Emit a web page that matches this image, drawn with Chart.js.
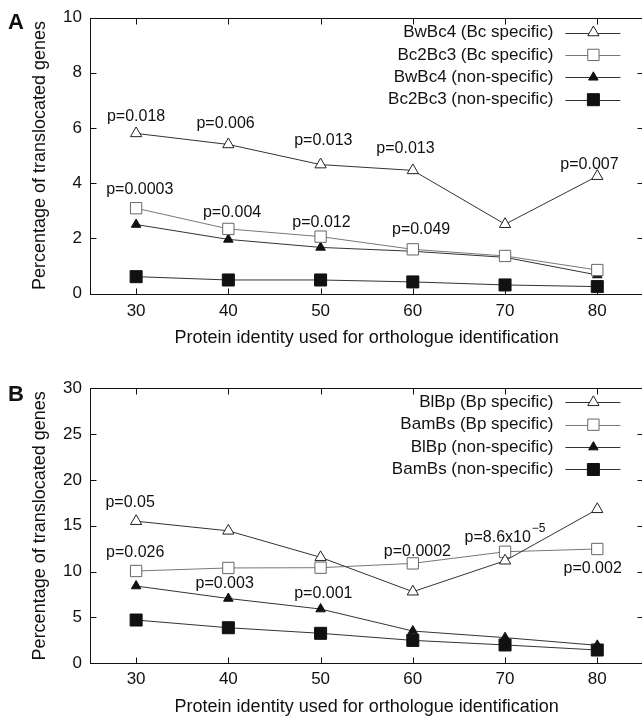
<!DOCTYPE html>
<html>
<head>
<meta charset="utf-8">
<title>Percentage of translocated genes</title>
<script src="https://cdn.jsdelivr.net/npm/chart.js@4.4.1/dist/chart.umd.min.js"></script>
<style>
  html, body { margin: 0; padding: 0; background: #fff; overflow: hidden; }
  canvas { display: block; }
</style>
</head>
<body>
<canvas id="panelA" width="645" height="360"></canvas>
<canvas id="panelB" width="645" height="359"></canvas>
<script>
// --- Data ---
const identity = [30, 40, 50, 60, 70, 80];
const xTicks = [30, 40, 50, 60, 70, 80];
const yTicksA = [0, 2, 4, 6, 8, 10];
const yTicksB = [0, 5, 10, 15, 20, 25, 30];

// Panel A
const namesA = ['BwBc4 (Bc specific)', 'Bc2Bc3 (Bc specific)', 'BwBc4 (non-specific)', 'Bc2Bc3 (non-specific)'];
const bwbc4Specific = [5.8, 5.4, 4.67, 4.46, 2.51, 4.25];
const bc2bc3Specific = [3.09, 2.34, 2.06, 1.6, 1.36, 0.85];
const bwbc4NonSpecific = [2.5, 1.96, 1.67, 1.53, 1.31, 0.67];
const bc2bc3NonSpecific = [0.61, 0.49, 0.49, 0.42, 0.31, 0.25];
const pTextA = ['p=0.018', 'p=0.006', 'p=0.013', 'p=0.013', 'p=0.007', 'p=0.0003', 'p=0.004', 'p=0.012', 'p=0.049'];
const pSupA = ['', '', '', '', '', '', '', '', ''];

// Panel B
const namesB = ['BlBp (Bp specific)', 'BamBs (Bp specific)', 'BlBp (non-specific)', 'BamBs (non-specific)'];
const blbpSpecific = [15.5, 14.45, 11.56, 7.81, 11.19, 16.8];
const bambsSpecific = [10.07, 10.4, 10.43, 10.9, 12.17, 12.47];
const blbpNonSpecific = [8.43, 7.07, 5.92, 3.52, 2.8, 1.96];
const bambsNonSpecific = [4.72, 3.88, 3.27, 2.5, 2.0, 1.45];
const pTextB = ['p=0.05', 'p=0.026', 'p=0.003', 'p=0.001', 'p=0.0002', 'p=8.6x10', 'p=0.002'];
const pSupB = ['', '', '', '', '', '\u22125', ''];

// where the p-value labels sit (x = centre, y = baseline, in data units)
const pAnchorsA = [[30, 6.25], [39.7, 5.99], [50.3, 5.38], [59.2, 5.08], [79.15, 4.51], [30.4, 3.6], [40.4, 2.78], [50.1, 2.42], [60.9, 2.16]];
const pAnchorsB = [[29.35, 17.08], [29.9, 11.63], [39.6, 8.18], [50.3, 7.16], [60.5, 11.7], [70.0, 13.27], [79.5, 9.82]];

// --- Styling ---
const FONT = "'Liberation Sans', Arial, Helvetica, sans-serif";
const INK = '#111';

const seriesStyles = [
    { pointStyle: 'triangle', pointRadius: 6.5, pointBackgroundColor: '#fff', pointBorderColor: '#222', borderColor: '#333' },
    { pointStyle: 'rect', pointRadius: 8, pointBackgroundColor: '#fff', pointBorderColor: '#666', borderColor: '#777' },
    { pointStyle: 'triangle', pointRadius: 5.5, pointBackgroundColor: '#111', pointBorderColor: '#111', borderColor: '#333' },
    { pointStyle: 'rect', pointRadius: 8.5, pointBackgroundColor: '#111', pointBorderColor: '#111', borderColor: '#333' }
];

Chart.defaults.font.family = FONT;
Chart.defaults.color = INK;

// gnuplot-like frame: full box, inward ticks, legend on the right, p-value labels, panel letter
function makeFramePlugin(panel) {
    return {
        id: 'gnuplotFrame',
        afterDraw(chart) {
            const { ctx, chartArea: a, scales: { x, y } } = chart;
            const L = Math.round(a.left) + 0.5, R = Math.round(a.right) + 0.5;
            const T = Math.round(a.top) + 0.5, B = Math.round(a.bottom) + 0.5;
            ctx.save();
            ctx.strokeStyle = INK;
            ctx.lineWidth = 1;
            ctx.strokeRect(L, T, R - L, B - T);
            ctx.beginPath();
            x.ticks.forEach(t => {
                const px = Math.round(x.getPixelForValue(t.value)) + 0.5;
                ctx.moveTo(px, B); ctx.lineTo(px, B - 6);
                ctx.moveTo(px, T); ctx.lineTo(px, T + 6);
            });
            y.ticks.forEach(t => {
                const py = Math.round(y.getPixelForValue(t.value)) + 0.5;
                ctx.moveTo(L, py); ctx.lineTo(L + 6, py);
                ctx.moveTo(R, py); ctx.lineTo(R - 6, py);
            });
            ctx.stroke();

            // legend
            ctx.font = '17px ' + FONT;
            ctx.textAlign = 'right';
            ctx.textBaseline = 'middle';
            chart.data.datasets.forEach((ds, i) => {
                const ly = a.top + panel.legendTop + i * 22.4;
                ctx.fillStyle = INK;
                ctx.fillText(ds.label, a.right - 90, ly);
                ctx.strokeStyle = ds.borderColor;
                ctx.beginPath();
                ctx.moveTo(a.right - 78, Math.round(ly) + 0.5);
                ctx.lineTo(a.right - 23, Math.round(ly) + 0.5);
                ctx.stroke();
                ctx.fillStyle = ds.pointBackgroundColor;
                ctx.strokeStyle = ds.pointBorderColor;
                Chart.helpers.drawPoint(ctx, { pointStyle: ds.pointStyle, radius: ds.pointRadius, rotation: 0, borderWidth: 1 }, a.right - 50, ly);
            });

            // p-values
            ctx.fillStyle = INK;
            ctx.textAlign = 'left';
            ctx.textBaseline = 'alphabetic';
            panel.pText.forEach((text, i) => {
                const [ax, ay] = panel.pAnchors[i];
                const cx = x.getPixelForValue(ax);
                const by = y.getPixelForValue(ay);
                const sup = panel.pSup[i];
                ctx.font = '16px ' + FONT;
                const w = ctx.measureText(text).width;
                let sw = 0;
                if (sup) {
                    ctx.font = '12px ' + FONT;
                    sw = ctx.measureText(sup).width + 1;
                }
                const x0 = cx - (w + sw) / 2;
                ctx.font = '16px ' + FONT;
                ctx.fillText(text, x0, by);
                if (sup) {
                    ctx.font = '12px ' + FONT;
                    ctx.fillText(sup, x0 + w + 1, by - 10);
                }
            });

            // panel letter
            ctx.font = 'bold 22px ' + FONT;
            ctx.fillText(panel.letter, 8, panel.letterBaseline);
            ctx.restore();
        }
    };
}

function buildPanel(canvasId, panel) {
    const datasets = panel.series.map((values, i) => ({
        label: panel.names[i],
        data: identity.map((v, j) => ({ x: v, y: values[j] })),
        borderWidth: 1,
        pointBorderWidth: 1,
        tension: 0,
        fill: false,
        ...seriesStyles[i]
    }));

    return new Chart(document.getElementById(canvasId), {
        type: 'line',
        data: { datasets: datasets },
        options: {
            responsive: false,
            animation: false,
            layout: { autoPadding: false, padding: { top: panel.top, right: 1.6, bottom: 0, left: 0 } },
            plugins: { legend: { display: false }, tooltip: { enabled: false } },
            scales: {
                x: {
                    type: 'linear',
                    min: 25,
                    max: 85,
                    afterBuildTicks: axis => { axis.ticks = xTicks.map(v => ({ value: v })); },
                    afterFit: axis => {
                        axis.height = panel.xAxisHeight;
                        axis.paddingLeft = 0;
                        axis.paddingRight = 0;
                    },
                    grid: { display: false, drawTicks: false },
                    border: { display: false },
                    ticks: { font: { size: 17 }, color: INK, padding: panel.xTickPad, maxRotation: 0 },
                    title: {
                        display: true,
                        text: 'Protein identity used for orthologue identification',
                        font: { size: 18 },
                        color: INK,
                        padding: { top: 0, bottom: panel.xTitlePad }
                    }
                },
                y: {
                    min: 0,
                    max: panel.yMax,
                    afterBuildTicks: axis => { axis.ticks = panel.yTicks.map(v => ({ value: v })); },
                    afterFit: axis => {
                        axis.width = 90;
                        axis.paddingTop = 0;
                        axis.paddingBottom = 0;
                    },
                    grid: { display: false, drawTicks: false },
                    border: { display: false },
                    ticks: { font: { size: 17 }, color: INK, padding: 8 },
                    title: {
                        display: true,
                        text: 'Percentage of translocated genes',
                        font: { size: 18 },
                        color: INK,
                        padding: { top: 29.5, bottom: 0 }
                    }
                }
            }
        },
        plugins: [makeFramePlugin(panel)]
    });
}

buildPanel('panelA', {
    letter: 'A', letterBaseline: 29,
    names: namesA,
    series: [bwbc4Specific, bc2bc3Specific, bwbc4NonSpecific, bc2bc3NonSpecific],
    pText: pTextA, pSup: pSupA, pAnchors: pAnchorsA,
    yMax: 10, yTicks: yTicksA,
    top: 17.5, xAxisHeight: 66.5, xTickPad: 7.5, xTitlePad: 11,
    legendTop: 15
});

buildPanel('panelB', {
    letter: 'B', letterBaseline: 41,
    names: namesB,
    series: [blbpSpecific, bambsSpecific, blbpNonSpecific, bambsNonSpecific],
    pText: pTextB, pSup: pSupB, pAnchors: pAnchorsB,
    yMax: 30, yTicks: yTicksB,
    top: 28.3, xAxisHeight: 55.7, xTickPad: 6, xTitlePad: 1,
    legendTop: 14
});
</script>
</body>
</html>
